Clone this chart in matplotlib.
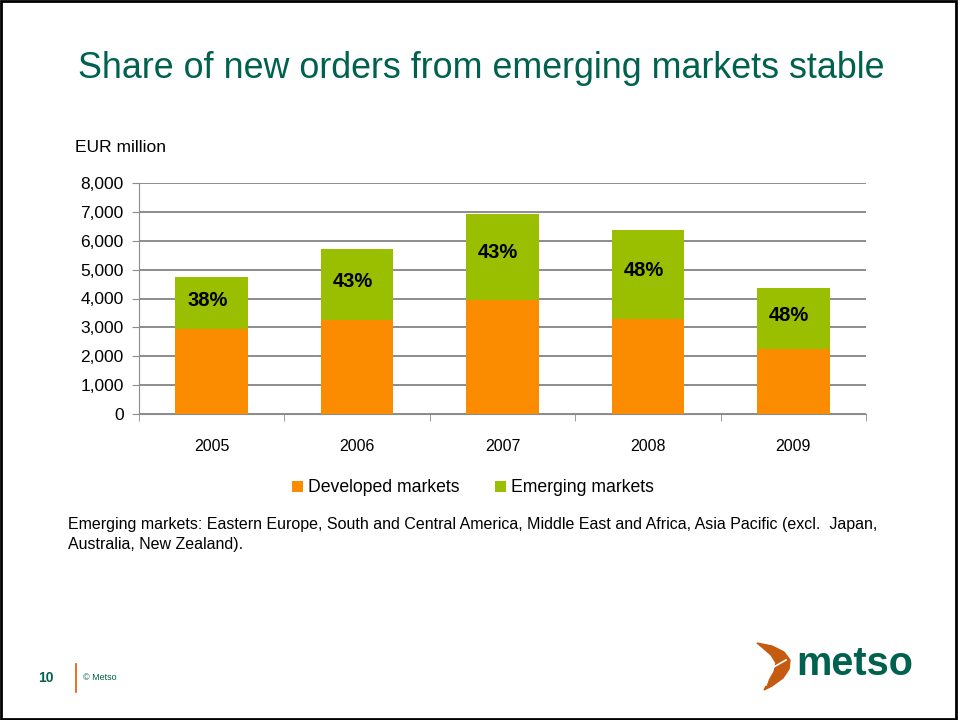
import numpy as np
import matplotlib.pyplot as plt
from matplotlib.patches import Rectangle, Polygon

plt.rcParams['font.family'] = ['Liberation Sans', 'DejaVu Sans']

years = ['2005', '2006', '2007', '2008', '2009']
developed = [2950, 3250, 3960, 3290, 2260]
emerging = [1800, 2450, 2980, 3080, 2090]
shares = ['38%', '43%', '43%', '48%', '48%']
yticks = [0, 1000, 2000, 3000, 4000, 5000, 6000, 7000, 8000]

orange = '#FB8C00'
green = '#99BF00'
teal = '#00614F'
logo_orange = '#C55A11'

W, H = 958, 720


def fx(px):
    return px / W


def fy(py):
    return 1 - py / H


fig = plt.figure(figsize=(9.58, 7.2), dpi=100)
fig.patches.append(Rectangle((0.001, 0.001), 0.997, 0.997, transform=fig.transFigure,
                             fill=False, edgecolor='black', linewidth=2))

fig.text(fx(78), fy(68), 'Share of new orders from emerging markets stable',
         fontsize=25.8, color=teal, va='center', ha='left')
fig.text(fx(75), fy(147), 'EUR million', fontsize=12.5, va='center', ha='left')

ax = fig.add_axes([fx(139), fy(414), 727/W, 231/H])
x = np.arange(len(years))
ax.bar(x, developed, width=0.5, color=orange, label='Developed markets', zorder=3)
ax.bar(x, emerging, width=0.5, bottom=developed, color=green, label='Emerging markets', zorder=3)
for i in range(len(years)):
    ax.text(x[i] - 0.03, developed[i] + emerging[i]*0.55, shares[i], ha='center', va='center',
            fontsize=14.5, fontweight='bold', zorder=4)

ax.set_xlim(-0.5, len(years)-0.5)
ax.set_ylim(0, 8000)
ax.set_yticks(yticks)
ax.set_yticklabels([f'{v:,}' for v in yticks], fontsize=12.5)
ax.yaxis.grid(True, color='#8c8c8c', linewidth=1.4, zorder=0)
ax.set_xticks(x)
ax.set_xticklabels(years, fontsize=11.5)
ax.tick_params(axis='x', length=0, pad=18)
ax.set_xticks(np.arange(-0.5, len(years)), minor=True)
ax.tick_params(axis='x', which='minor', length=5, color='#8c8c8c')
ax.tick_params(axis='y', length=5, color='#8c8c8c', pad=6)
for s in ['top', 'right']:
    ax.spines[s].set_visible(False)
ax.spines['left'].set_color('#8c8c8c')
ax.spines['bottom'].set_color('#8c8c8c')

ax.legend(loc='center', bbox_to_anchor=((473-139)/727, (414-488)/231), ncol=2, frameon=False,
          fontsize=12.7, handlelength=0.6, handleheight=0.6, handletextpad=0.3, columnspacing=2.0)

fig.text(fx(68), fy(524),
         'Emerging markets: Eastern Europe, South and Central America, Middle East and Africa, Asia Pacific (excl.  Japan,',
         fontsize=11.5, va='center', ha='left')
fig.text(fx(68), fy(545), 'Australia, New Zealand).', fontsize=11.5, va='center', ha='left')

# footer
fig.text(fx(38), fy(678), '10', fontsize=10, fontweight='bold', color=teal, va='center')
fig.add_artist(plt.Line2D([fx(76), fx(76)], [fy(664), fy(692)], color='#E05A00', linewidth=1.2))
fig.text(fx(83), fy(678), '© Metso', fontsize=6.5, color=teal, va='center')

# logo
fig.text(fx(796), fy(664), 'metso', fontsize=28.5, fontweight='bold', color=teal, va='center', ha='left')
sail = [(757, 643), (772, 646), (784, 652), (790, 660), (789, 669), (783, 678), (772, 686), (764, 690),
        (768, 682), (774, 672), (776, 663), (771, 655), (763, 648)]
fig.add_artist(Polygon([(fx(a), fy(b)) for a, b in sail], closed=True, color=logo_orange,
                       transform=fig.transFigure))
fig.add_artist(plt.Line2D([fx(766), fx(772), fx(786)], [fy(685), fy(668), fy(660)],
                          color='white', linewidth=1.2))

fig.savefig('out.png', dpi=100)
